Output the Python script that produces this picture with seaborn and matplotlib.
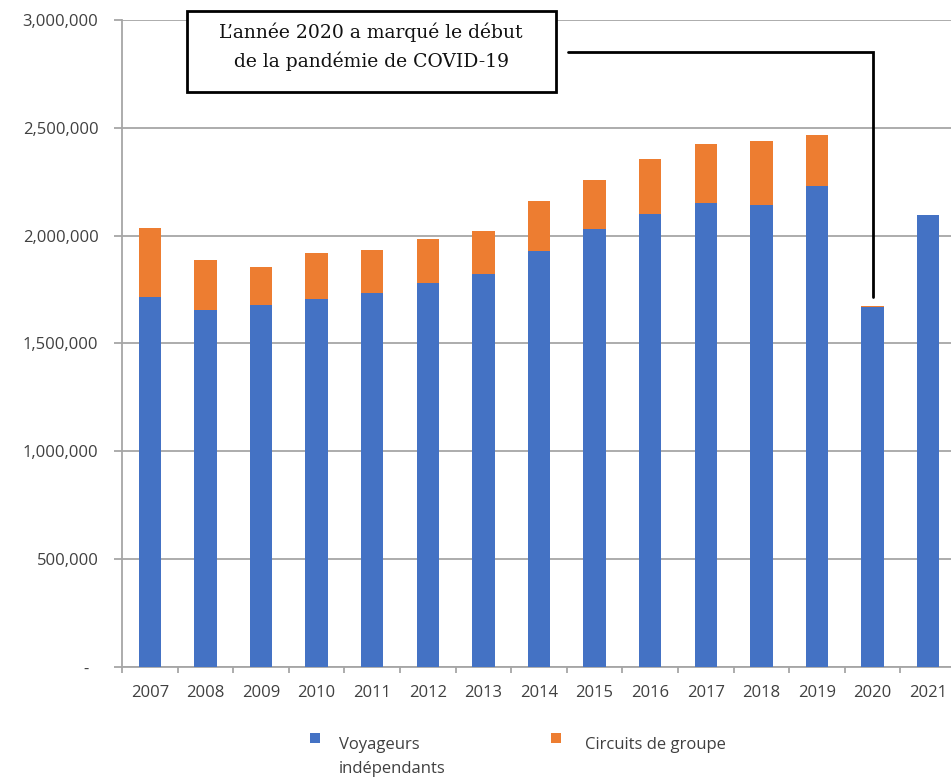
import matplotlib
matplotlib.use("Agg")
import matplotlib.pyplot as plt
from matplotlib.patches import Rectangle
from matplotlib.ticker import FixedLocator
import seaborn as sns
import pandas as pd

# Visitor arrivals by year: independent travellers and group tours
years = [2007, 2008, 2009, 2010, 2011, 2012, 2013, 2014,
         2015, 2016, 2017, 2018, 2019, 2020, 2021]
voyageurs = [1715000, 1656000, 1679000, 1708000, 1735000, 1781000, 1823000, 1931000,
             2031000, 2100000, 2152000, 2144000, 2232000, 1668000, 2096000]
circuits = [321000, 233000, 174000, 212000, 199000, 202000, 197000, 228000,
            229000, 256000, 271000, 294000, 234000, 8000, 0]

y_ticks = [0, 500000, 1000000, 1500000, 2000000, 2500000, 3000000]
y_tick_labels = ["-  ", "500,000", "1,000,000", "1,500,000", "2,000,000", "2,500,000", "3,000,000"]
legend_labels = ["Voyageurs\nindépendants", "Circuits de groupe"]
note_lines = ["L’année 2020 a marqué le début", "de la pandémie de COVID-19"]
note_year = 2020

BLUE = "#4472C4"
ORANGE = "#ED7D31"
GRID = "#A6A6A6"
TXT = "#404040"

sns.set_theme(style="white")
plt.rcParams["font.family"] = ["Open Sans", "DejaVu Sans"]

df = pd.DataFrame({"year": [str(y) for y in years],
                   "voyageurs": voyageurs,
                   "circuits": circuits})
df["total"] = df["voyageurs"] + df["circuits"]

W, H = 951, 778
fig = plt.figure(figsize=(W / 100, H / 100), dpi=100)
ax = fig.add_axes([122 / W, 1 - 667 / H, (956 - 122) / W, (667 - 20) / H])

# stacked bars: full total in orange, independent travellers in blue on top
sns.barplot(data=df, x="year", y="total", color=ORANGE, saturation=1,
            width=0.4, linewidth=0, ax=ax, zorder=2)
sns.barplot(data=df, x="year", y="voyageurs", color=BLUE, saturation=1,
            width=0.4, linewidth=0, ax=ax, zorder=3)

ax.set_xlim(-0.5, len(years) - 0.5)
ax.set_ylim(0, 3000000)
ax.set_xlabel("")
ax.set_ylabel("")

ax.set_yticks(y_ticks, y_tick_labels)
ax.yaxis.grid(True, color=GRID, linewidth=1.3)
ax.set_axisbelow(True)

for side in ("top", "right"):
    ax.spines[side].set_visible(False)
for side in ("left", "bottom"):
    ax.spines[side].set_color(GRID)
    ax.spines[side].set_linewidth(1.3)

ax.tick_params(axis="y", left=True, length=6, width=1.3, color=GRID,
               pad=11, labelsize=12, labelcolor=TXT)
ax.tick_params(axis="x", which="major", length=0, pad=13,
               labelsize=12, labelcolor=TXT)
ax.xaxis.set_minor_locator(FixedLocator([i - 0.5 for i in range(len(years) + 1)]))
ax.tick_params(axis="x", which="minor", bottom=True, length=4, width=1.3, color=GRID)

# callout line pointing at the 2020 bar
i20 = years.index(note_year)
top20 = df["total"][i20]
ax.plot([7.52, i20, i20], [2853000, 2853000, top20 + 40000],
        color="black", linewidth=2, clip_on=False, zorder=5,
        solid_joinstyle="miter")

# note box
fig.add_artist(Rectangle((187 / W, 1 - 92 / H), (556 - 187) / W, (92 - 11) / H,
                         transform=fig.transFigure, facecolor="white",
                         edgecolor="black", linewidth=2, zorder=6))
for line, base in zip(note_lines, (38.5, 67)):
    fig.text(371 / W, 1 - base / H, line, ha="center", va="baseline",
             fontsize=13.5, family=["DejaVu Serif"], color="#111111", zorder=7)

# legend
for (x0, col, label) in ((310, BLUE, legend_labels[0]), (551, ORANGE, legend_labels[1])):
    fig.add_artist(Rectangle((x0 / W, 1 - 743 / H), 10 / W, 10 / H,
                             transform=fig.transFigure, facecolor=col,
                             edgecolor="none"))
lab0 = legend_labels[0].split("\n")
fig.text(339 / W, 1 - 749 / H, lab0[0], ha="left", va="baseline", fontsize=12, color=TXT)
fig.text(339 / W, 1 - 773 / H, lab0[1], ha="left", va="baseline", fontsize=12, color=TXT)
fig.text(585 / W, 1 - 749 / H, legend_labels[1], ha="left", va="baseline", fontsize=12, color=TXT)

fig.savefig("out.png", dpi=100)
